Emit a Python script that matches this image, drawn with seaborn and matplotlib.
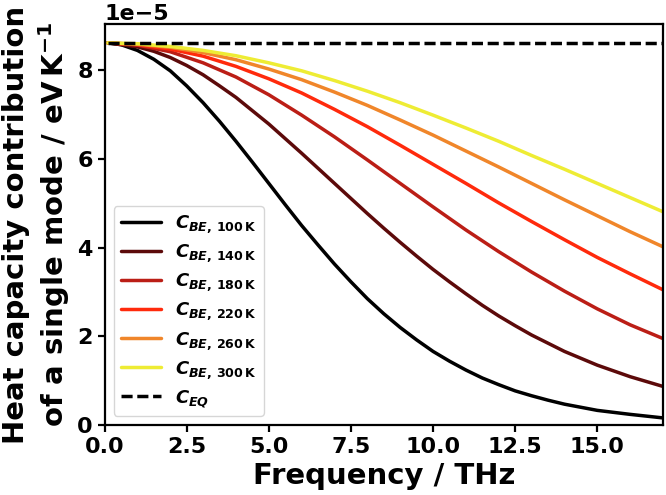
import seaborn as sns
import matplotlib.pyplot as plt
import numpy as np
import pandas as pd

# values, heat capacity in units of 1e-5 eV/K
freq = [0.1, 1, 2, 3, 4, 5, 6, 7, 8, 9, 10, 11, 12, 13, 14, 15, 16, 17]
freq_100 = [0.1, 0.5, 1, 1.5, 2, 2.5, 3, 3.5, 4, 4.5, 5, 5.5, 6, 6.5, 7, 7.5, 8, 8.5, 9, 9.5,
            10, 10.5, 11, 11.5, 12, 12.5, 13, 13.5, 14, 15, 16, 17]
c_100 = [8.62, 8.58, 8.45, 8.25, 7.99, 7.65, 7.27, 6.85, 6.40, 5.93, 5.45, 4.97, 4.50, 4.06, 3.63, 3.23,
         2.85, 2.51, 2.20, 1.92, 1.66, 1.44, 1.24, 1.06, 0.91, 0.77, 0.66, 0.56, 0.47, 0.33, 0.24, 0.16]
freq_140 = [0.1, 1, 1.5, 2, 2.5, 3, 3.5, 4, 4.5, 5, 5.5, 6, 6.5, 7, 7.5, 8, 8.5, 9, 9.5, 10,
            10.5, 11, 11.5, 12, 12.5, 13, 14, 15, 16, 17]
c_140 = [8.62, 8.53, 8.43, 8.29, 8.11, 7.90, 7.65, 7.39, 7.09, 6.79, 6.46, 6.13, 5.79, 5.45, 5.11,
         4.77, 4.44, 4.12, 3.81, 3.51, 3.23, 2.96, 2.70, 2.46, 2.24, 2.03, 1.66, 1.35, 1.09, 0.87]
c_180 = [8.62, 8.57, 8.42, 8.17, 7.85, 7.45, 6.99, 6.50, 5.98, 5.45, 4.92, 4.40, 3.91, 3.45, 3.02, 2.62, 2.26, 1.95]
c_220 = [8.62, 8.58, 8.48, 8.32, 8.09, 7.81, 7.49, 7.12, 6.73, 6.31, 5.88, 5.45, 5.01, 4.59, 4.18, 3.78, 3.41, 3.05]
c_260 = [8.62, 8.59, 8.52, 8.40, 8.24, 8.03, 7.79, 7.51, 7.21, 6.88, 6.54, 6.18, 5.82, 5.45, 5.08, 4.72, 4.36, 4.02]
c_300 = [8.62, 8.60, 8.54, 8.45, 8.33, 8.17, 7.99, 7.77, 7.53, 7.27, 6.99, 6.70, 6.40, 6.08, 5.77, 5.45, 5.13, 4.81]
c_eq = [8.617] * len(freq)

temps = ['100', '140', '180', '220', '260', '300']
colors = ['#000000', '#5c0a0a', '#bb1e16', '#ff2a0c', '#f0862a', '#eeec34']
xticks = [0, 2.5, 5, 7.5, 10, 12.5, 15]

series = [(freq_100, c_100), (freq_140, c_140), (freq, c_180),
          (freq, c_220), (freq, c_260), (freq, c_300)]
rows = []
for t, (fs, vals) in zip(temps, series):
    for f, v in zip(fs, vals):
        rows.append({'freq': f, 'C': v * 1e-5, 'T': t})
data = pd.DataFrame(rows)
eq = pd.DataFrame({'freq': freq, 'C': np.array(c_eq) * 1e-5})

sns.set_style('ticks')
plt.rcParams['font.family'] = ['DejaVu Sans']
plt.rcParams['font.weight'] = 'bold'
plt.rcParams['axes.labelweight'] = 'bold'
plt.rcParams['mathtext.fontset'] = 'custom'
plt.rcParams['mathtext.rm'] = 'DejaVu Sans:bold'
plt.rcParams['mathtext.bf'] = 'DejaVu Sans:bold'
plt.rcParams['mathtext.it'] = 'DejaVu Sans:italic:bold'
plt.rcParams['axes.linewidth'] = 1.6
plt.rcParams['xtick.labelsize'] = 16
plt.rcParams['ytick.labelsize'] = 16
for k in ['text.color', 'axes.labelcolor', 'xtick.color', 'ytick.color', 'axes.edgecolor']:
    plt.rcParams[k] = 'black'

fig = plt.figure(figsize=(6.66, 4.95), dpi=100)
ax = fig.add_axes([0.157, 0.1414, 0.9955 - 0.157, 0.951 - 0.1414])

pal = dict(zip(temps, colors))
sns.lineplot(data=data, x='freq', y='C', hue='T', palette=pal, lw=2.5, ax=ax, legend=False)
sns.lineplot(data=eq, x='freq', y='C', color='black', lw=2.5, ax=ax)
ax.lines[-1].set_linestyle((0, (3.2, 1.35)))

labels = [r'$C_{BE,\,%s\,\mathrm{K}}$' % t for t in temps]
handles = list(ax.lines[:6]) + [ax.lines[-1]]
ax.legend(handles, labels + [r'$C_{EQ}$'], loc='lower left', fontsize=13,
          labelspacing=0.4, handlelength=2.2)

ax.set_xlim(0, 17)
ax.set_ylim(0, 9.04e-5)
ax.set_xticks(xticks)
ax.tick_params(width=1.6, length=5)
ax.set_xlabel('Frequency / THz', fontsize=21)
ax.set_ylabel('Heat capacity contribution\nof a single mode / eV$\\,$K$^{-1}$', fontsize=21)

fig.savefig('out.png', dpi=100)
